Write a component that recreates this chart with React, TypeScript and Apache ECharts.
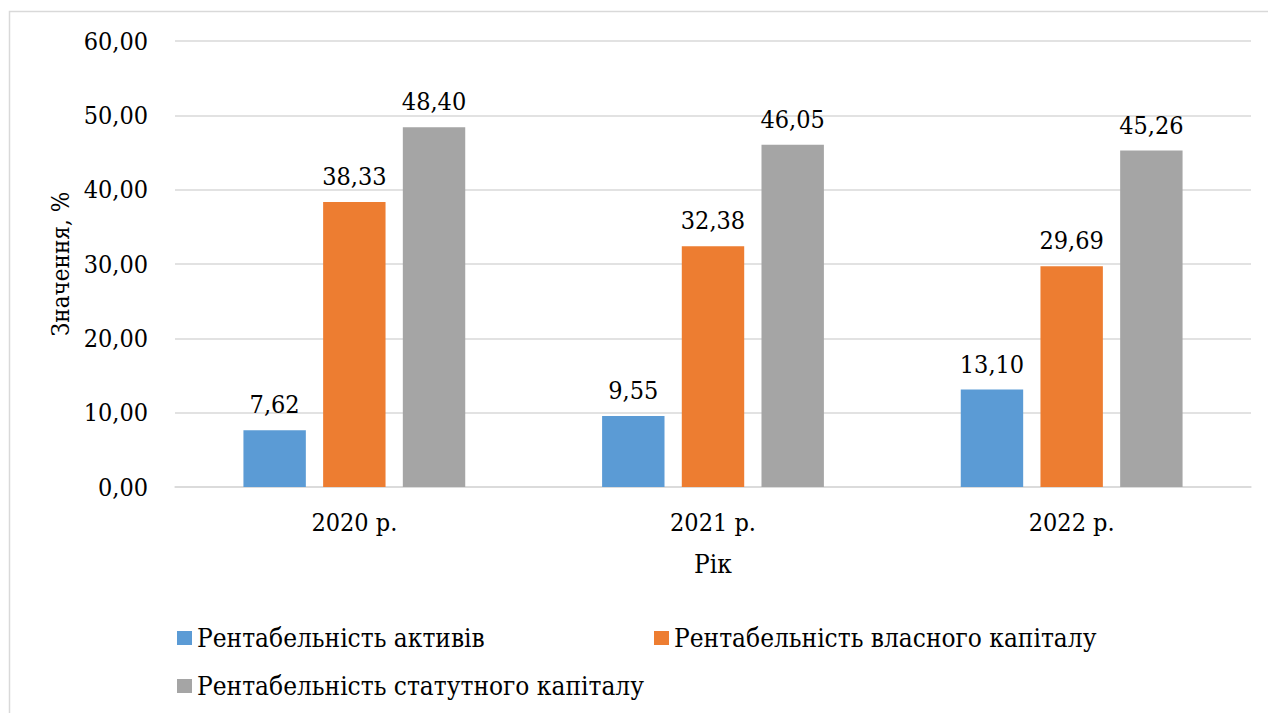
import React, { useEffect, useRef } from "react";
import * as echarts from "echarts";

const years = ["2020 р.", "2021 р.", "2022 р."];
const seriesNames = [
  "Рентабельність активів",
  "Рентабельність власного капіталу",
  "Рентабельність статутного капіталу",
];
const assetsReturn = [7.62, 9.55, 13.1];
const equityReturn = [38.33, 32.38, 29.69];
const charterReturn = [48.4, 46.05, 45.26];
const seriesColors = ["#5b9bd5", "#ed7d31", "#a5a5a5"];

const FONT = "DejaVu Serif Condensed";
const fmt = (v: number) => v.toFixed(2).replace(".", ",");

export default function App() {
  const ref = useRef<HTMLDivElement>(null);

  useEffect(() => {
    if (!ref.current) return;
    const chart = echarts.init(ref.current, null, { renderer: "svg" });
    const values = [assetsReturn, equityReturn, charterReturn];

    const legendBase = {
      orient: "horizontal",
      padding: 0,
      itemWidth: 15,
      itemHeight: 14,
      icon: "rect",
      textStyle: { fontFamily: FONT, fontSize: 26, color: "#000" },
    };

    chart.setOption({
      animation: false,
      backgroundColor: "#fff",
      textStyle: { fontFamily: FONT },
      graphic: [
        {
          type: "rect",
          shape: { x: 9.5, y: 11.5, width: 1300, height: 800 },
          style: { fill: "none", stroke: "#d9d9d9", lineWidth: 1.5 },
          silent: true,
          z: -10,
        },
      ],
      grid: { left: 175, right: 17, top: 41, bottom: 226 },
      legend: [
        { ...legendBase, data: [seriesNames[0]], left: 177, top: 625 },
        { ...legendBase, data: [seriesNames[1]], left: 654, top: 625 },
        { ...legendBase, data: [seriesNames[2]], left: 177, top: 673 },
      ],
      xAxis: {
        type: "category",
        data: years,
        name: "Рік",
        nameLocation: "middle",
        nameGap: 64,
        nameTextStyle: { fontFamily: FONT, fontSize: 26, color: "#000" },
        axisLine: { show: true, lineStyle: { color: "#d9d9d9", width: 1.5 } },
        axisTick: { show: false },
        axisLabel: { fontFamily: FONT, fontSize: 25, color: "#000", margin: 23 },
      },
      yAxis: {
        type: "value",
        min: 0,
        max: 60,
        interval: 10,
        name: "Значення, %",
        nameLocation: "middle",
        nameGap: 102,
        nameTextStyle: { fontFamily: FONT, fontSize: 24, color: "#000" },
        axisLine: { show: false },
        axisTick: { show: false },
        axisLabel: {
          fontFamily: FONT,
          fontSize: 25,
          color: "#000",
          margin: 27,
          formatter: (v: number) => fmt(v),
        },
        splitLine: { lineStyle: { color: "#d9d9d9", width: 1.5 } },
      },
      series: seriesNames.map((name, i) => ({
        name,
        type: "bar",
        data: values[i],
        barWidth: "17.4%",
        barGap: "27.7%",
        itemStyle: { color: seriesColors[i] },
        label: {
          show: true,
          position: "top",
          distance: 13,
          fontFamily: FONT,
          fontSize: 25,
          color: "#000",
          formatter: (p: any) => fmt(p.value),
        },
      })),
    });

    return () => chart.dispose();
  }, []);

  return (
    <div
      ref={ref}
      style={{ position: "absolute", left: 0, top: 0, width: 1268, height: 713 }}
    />
  );
}
